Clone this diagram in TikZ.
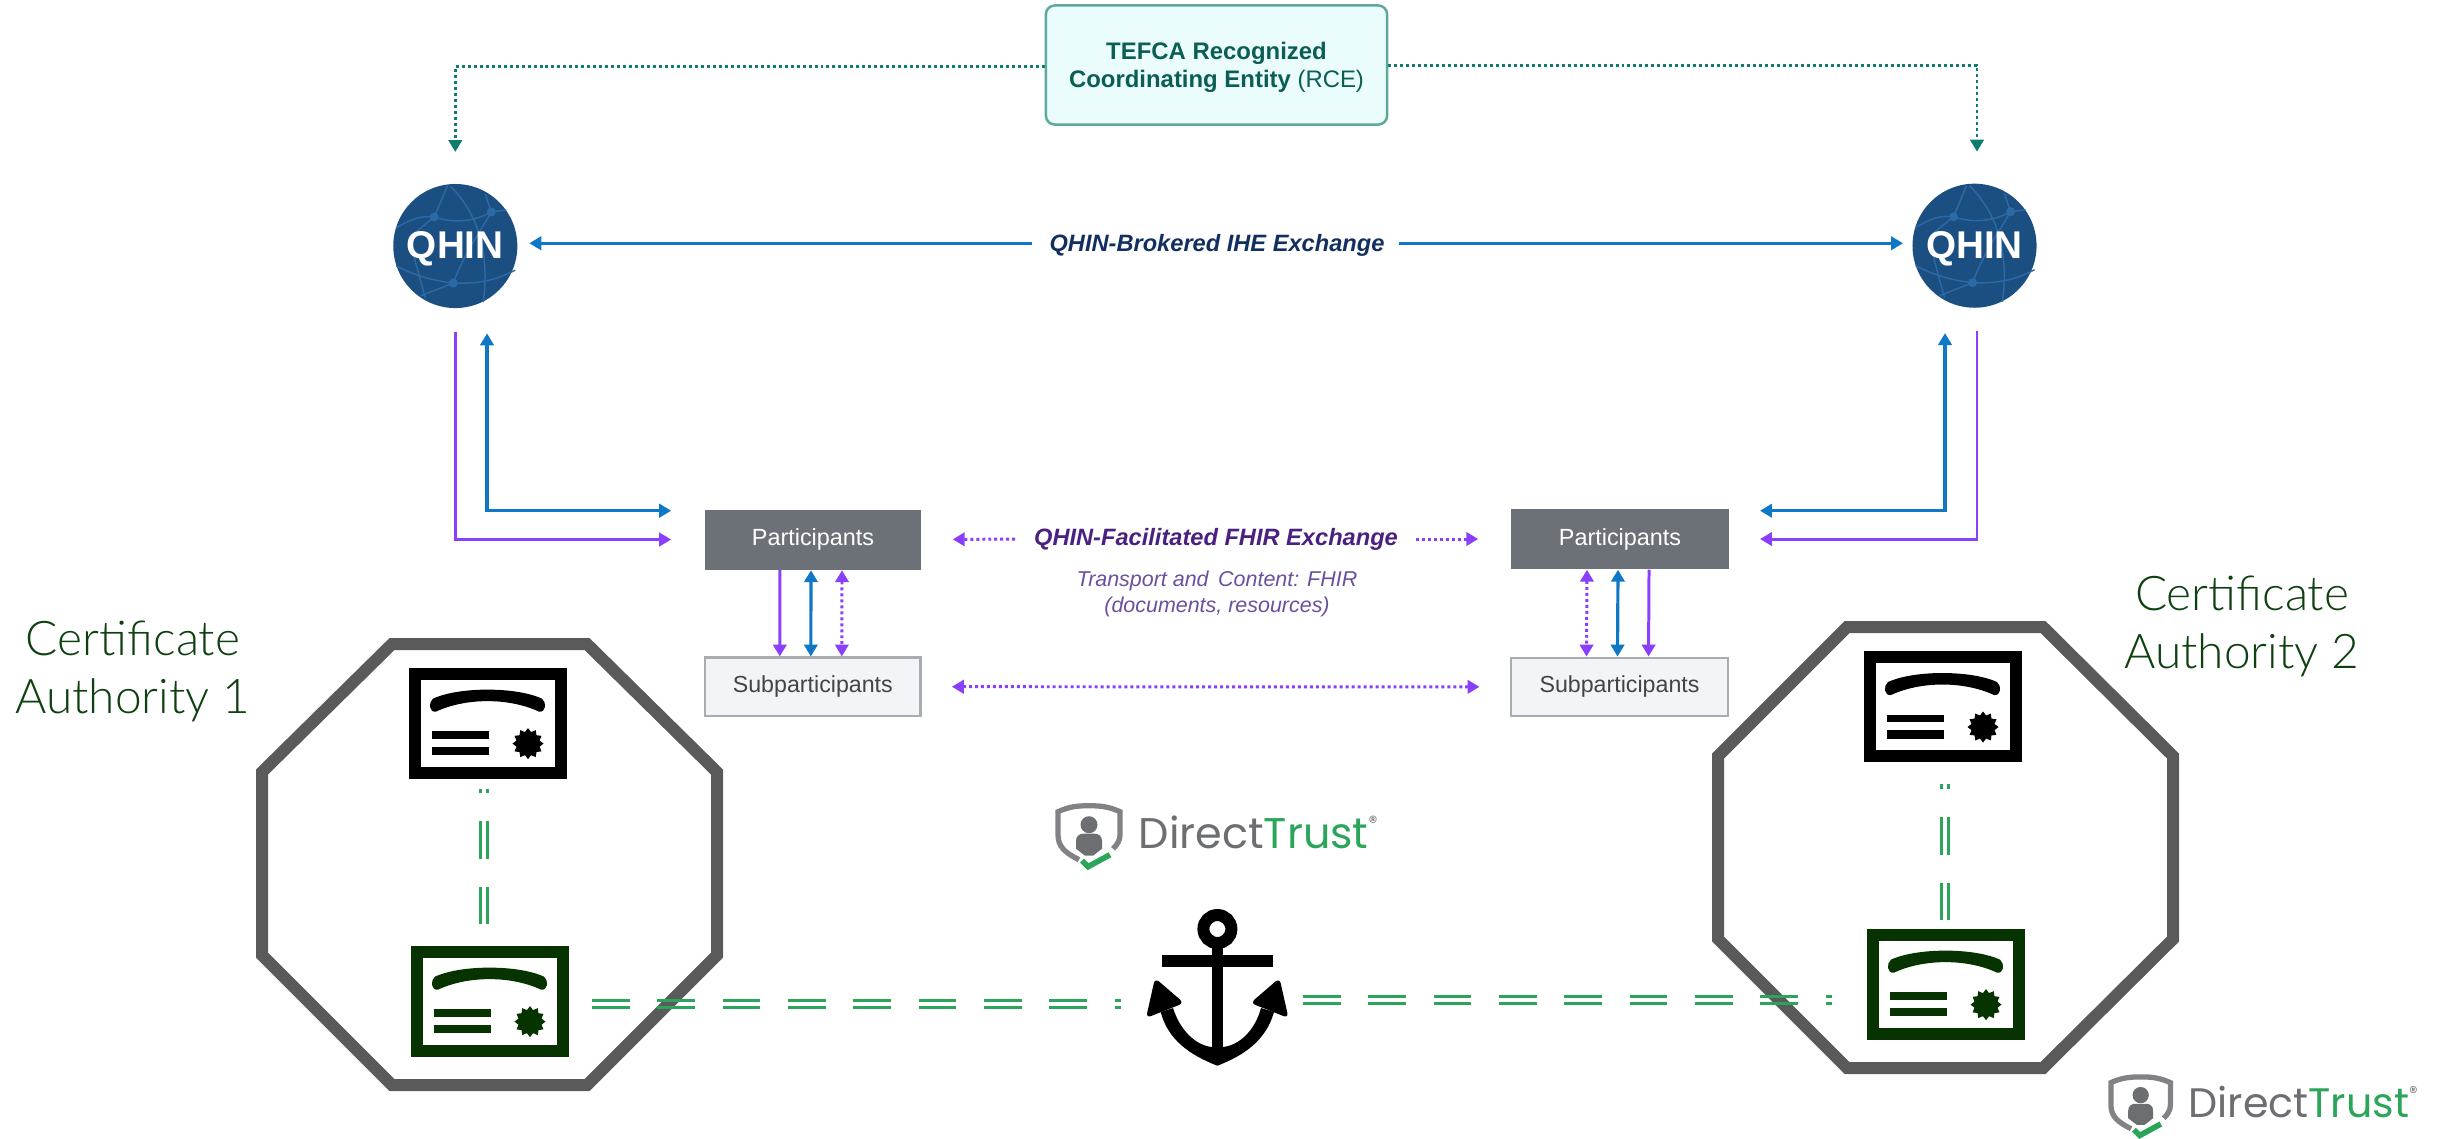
\documentclass[tikz,border=0pt]{standalone}
\usepackage{fontspec}
\setmainfont{Liberation Sans}
\newfontfamily\cafont{Lato Light}
\newfontfamily\logofont{Poppins}
\usetikzlibrary{arrows.meta,shapes.geometric}

\definecolor{rcefill}{HTML}{EAFCFB}
\definecolor{rceline}{HTML}{5EA99C}
\definecolor{rcetext}{HTML}{0B5E52}
\definecolor{tealline}{HTML}{0E7C70}
\definecolor{qhinfill}{HTML}{1B4F82}
\definecolor{qhinweb}{HTML}{2B6AA6}
\definecolor{blueline}{HTML}{0F78C6}
\definecolor{purpleline}{HTML}{8A3FFC}
\definecolor{navytext}{HTML}{12305F}
\definecolor{purpletext}{HTML}{4A2080}
\definecolor{noteText}{HTML}{6B4FA0}
\definecolor{partfill}{HTML}{6C7178}
\definecolor{subfill}{HTML}{F2F4F8}
\definecolor{subline}{HTML}{A9ADB2}
\definecolor{subtext}{HTML}{444444}
\definecolor{octline}{HTML}{5A5A5A}
\definecolor{certgreen}{HTML}{063300}
\definecolor{catext}{HTML}{0E4010}
\definecolor{chaingreen}{HTML}{2BA55A}
\definecolor{dtgray}{HTML}{6D6E71}
\definecolor{dtline}{HTML}{808285}

\tikzset{
    tip/.style={>={Triangle[length=3.4pt,width=3.8pt]}},
    tealdot/.style={tip, tealline, line width=.85pt, dash pattern=on .85pt off .85pt},
    bluearrow/.style={tip, blueline, line width=.9pt},
    purplearrow/.style={tip, purpleline, line width=.85pt},
    purpledot/.style={tip, purpleline, line width=.85pt, dash pattern=on .85pt off .85pt},
    chainline/.style={chaingreen, line width=.85pt, dash pattern=on 10.67pt off 7.91pt},
    octagonline/.style={octline, line width=3.41pt, line join=miter},
    exchange/.style={inner sep=0pt, font=\fontsize{6.72}{8.3}\selectfont\bfseries\itshape},
    qhindisc/.style={circle, fill=qhinfill, inner sep=0pt, minimum size=1.24cm},
    qhintext/.style={inner sep=0pt, text=white, font=\fontsize{11}{13}\selectfont\bfseries},
    partbox/.style={fill=partfill, text=white, inner sep=0pt, minimum height=.6cm,
        font=\fontsize{6.65}{8}\selectfont},
    subbox/.style={draw=subline, line width=.7pt, fill=subfill, text=subtext, inner sep=0pt,
        minimum height=.58cm, font=\fontsize{6.6}{8}\selectfont},
    catitle/.style={inner sep=0pt, text=catext, anchor=base, font=\fontsize{13.6}{16}\cafont},
    pics/certicon/.style={code={
        \node[draw=#1, fill=white, line width=3.41pt, inner sep=0pt, minimum width=1.46cm,
            minimum height=.99cm] (-box) at (79,55.5) {};
        \fill[#1] (24,31) .. controls (50,19) and (107,19) .. (133,31) .. controls (138,35) and (137,45) .. (130,44)
            .. controls (100,30) and (57,30) .. (27,44) .. controls (20,45) and (19,35) .. (24,31) -- cycle;
        \fill[#1] (23,63.5) rectangle (79.5,71.4);
        \fill[#1] (23,79.3) rectangle (79.5,87.5);
        \node[star, star points=12, star point ratio=1.3, fill=#1, inner sep=0pt,
            minimum size=.31cm] (-seal) at (119,76) {};
    }},
    pics/globeweb/.style={code={
        \draw[qhinweb, line width=.4pt]
            (-59,-18) .. controls (-40,-30) and (-30,-30) .. (-21,-29) .. controls (0,-22) and (20,-25) .. (36,-34) -- (51,-36)
            (-8,-60) -- (-21,-29) -- (-42,-12)
            (-5,-60) .. controls (25,-30) and (34,10) .. (28,56)
            (-59,20) .. controls (-40,30) and (-20,35) .. (-2,37) .. controls (20,38) and (40,35) .. (60,24)
            (36,-34) .. controls (22,-10) and (8,10) .. (-2,37) -- (-35,50)
            (-42,8) -- (-30,52)
            (30,-52) -- (36,-34);
        \fill[qhinweb] (-21,-29) circle (4.5) (36,-34) circle (4.5) (-2,37) circle (4.5);
    }},
    pics/dtlogo/.style={code={
        \draw[dtline, line width=1.5pt] (24,57) .. controls (10,50) and (3,44) .. (3,32) -- (3,9)
            .. controls (14,4) and (22,3) .. (34,3) .. controls (46,3) and (54,4) .. (65,9) -- (65,32)
            .. controls (65,38) and (62,42) .. (58,46);
        \fill[dtgray] (34,22) circle (8.5);
        \fill[dtgray] (21,38) .. controls (21,33) and (25,31) .. (28,31) -- (40,31) .. controls (43,31) and (47,33) .. (47,38)
            -- (47,46) -- (38,53) -- (30,53) -- (21,46) -- cycle;
        \draw[chaingreen, line width=1.6pt] (27,58) -- (33,64) -- (55,52);
        \node[anchor=base west, inner sep=0pt, font=\fontsize{12.2}{14}\logofont] (-name) at (83,45.3)
            {\textcolor{dtgray}{Direct}\textcolor{chaingreen}{Trust}\raisebox{.85ex}{\textcolor{dtgray}{\fontsize{5}{6}\selectfont ®}}};
    }}
}

\begin{document}
\begin{tikzpicture}[x=.01cm, y=-.01cm]

    \useasboundingbox (0,0) rectangle (2443,1138);

    % RCE
    \node[draw=rceline, line width=.7pt, fill=rcefill, rounded corners=2.5pt,
        minimum width=3.41cm, minimum height=1.19cm, inner sep=0pt] (rce) at (1216.5,65) {};
    \node[align=center, text=rcetext, inner sep=0pt, font=\fontsize{6.8}{8}\selectfont]
        (rcetext) at (1216.5,67) {\textbf{TEFCA Recognized}\\\textbf{Coordinating Entity} (RCE)};

    % QHIN 1
    \node[qhindisc] (qhinA) at (455.3,246) {};
    \pic (webA) at (qhinA) {globeweb};
    \node[qhintext] (qhinAtext) at (455.3,249) {QHIN};

    % QHIN 2
    \node[qhindisc] (qhinB) at (1974.5,245.7) {};
    \pic (webB) at (qhinB) {globeweb};
    \node[qhintext] (qhinBtext) at (1974.5,249) {QHIN};

    % RCE a QHIN
    \draw[tealdot, ->, shorten >=8.9pt] ([yshift=-.5pt]rce.west) -| (qhinA.north);
    \draw[tealdot, ->, shorten >=8.9pt] (rce.east) -| ([xshift=.7pt]qhinB.north);

    % QHIN-Brokered
    \node[exchange, text=navytext] (brokered) at (1217,245) {QHIN-Brokered IHE Exchange};
    \draw[bluearrow, ->, shorten <=4.9pt, shorten >=3.2pt] ([yshift=.5pt]brokered.west) -- ([yshift=.5pt]brokered.west -| qhinA.east);
    \draw[bluearrow, ->, shorten <=4pt, shorten >=2.5pt] ([yshift=.5pt]brokered.east) -- ([yshift=.5pt]brokered.east -| qhinB.west);

    % Participants 1
    \node[partbox, minimum width=2.16cm] (partA) at (813,539.5) {\raisebox{-.4pt}{Participants}};
    \node[subbox, minimum width=2.15cm] (subA) at (812.8,686.7) {\raisebox{-.4pt}{Subparticipants}};

    % Participants 2
    \node[partbox, minimum width=2.18cm] (partB) at (1620,539) {\raisebox{-.4pt}{Participants}};
    \node[subbox, minimum width=2.17cm] (subB) at (1619.5,686.8) {\raisebox{-.4pt}{Subparticipants}};

    % QHIN 1 a Participants 1
    \draw[purplearrow, ->, shorten <=6.5pt, shorten >=9.4pt] (qhinA.south) |- (partA.west);
    \draw[bluearrow, <->, shorten <=7pt, shorten >=9.4pt] ([xshift=.317cm]qhinA.south) |- ([yshift=.288cm]partA.west);

    % QHIN 2 a Participants 2
    \draw[purplearrow, ->, shorten <=6.5pt, shorten >=8.6pt] ([xshift=.7pt]qhinB.south) |- (partB.east);
    \draw[bluearrow, <->, shorten <=7pt, shorten >=8.6pt] ([xshift=-.295cm]qhinB.south) |- ([yshift=.283cm]partB.east);

    % Participants 1 a Subparticipants 1
    \draw[purplearrow, ->] ([xshift=-.33cm]partA.south) -- ([xshift=-.33cm]subA.north);
    \draw[bluearrow, <->] ([xshift=-.02cm]partA.south) -- ([xshift=-.02cm]subA.north);
    \draw[purpledot, <->] ([xshift=.29cm]partA.south) -- ([xshift=.29cm]subA.north);

    % Participants 2 a Subparticipants 2
    \draw[purpledot, <->] ([xshift=-.33cm]partB.south) -- ([xshift=-.33cm]subB.north);
    \draw[bluearrow, <->] ([xshift=-.02cm]partB.south) -- ([xshift=-.02cm]subB.north);
    \draw[purplearrow, ->] ([xshift=.29cm]partB.south) -- ([xshift=.29cm]subB.north);

    % QHIN-Facilitated
    \node[exchange, text=purpletext] (facil) at (1216,539) {\raisebox{-.3pt}{QHIN-Facilitated FHIR Exchange}};
    \node[inner sep=0pt, align=center, text=noteText, font=\fontsize{6.1}{7.5}\selectfont\itshape]
        (facilnote) at (1217,594) {Transport and\, Content: FHIR\\(documents, resources)};
    \draw[purpledot, ->, shorten <=5.2pt, shorten >=8.8pt] (facil.west) -- (partA.east);
    \draw[purpledot, ->, shorten <=4.9pt, shorten >=9.1pt] (facil.east) -- (partB.west);
    \draw[purpledot, <->, shorten <=8.6pt, shorten >=8.6pt] (subA.east) -- (subB.west);

    % Certificate Authority 1
    \node[catitle] (caAtop) at (133,655.6) {Certificate};
    \node[catitle] (caAbot) at (133,713) {Authority 1};
    \draw[octagonline] (392,644) -- (587,644) -- (717,772) -- (717,955) -- (587,1085) -- (392,1085) -- (262,955) -- (262,772) -- cycle;
    \pic (certA) at (409,667.6) {certicon=black};
    \pic (rootA) at (411,945.6) {certicon=certgreen};

    % Certificate Authority 2
    \node[catitle] (caBtop) at (2242,610.5) {Certificate};
    \node[catitle] (caBbot) at (2242,668.7) {Authority 2};
    \draw[octagonline] (1847,627) -- (2043,627) -- (2173,756) -- (2173,939) -- (2043,1068) -- (1847,1068) -- (1718,939) -- (1718,756) -- cycle;
    \pic (certB) at (1864,651) {certicon=black};
    \pic (rootB) at (1867,928.6) {certicon=certgreen};

    % Ancla
    \draw[line width=3.41pt] (1217.4,929) circle (14);
    \fill (1211.7,940) rectangle (1223,1050);
    \fill (1162,954.7) rectangle (1272.7,966.7);
    \fill[rounded corners=1.5pt] (1155,978) -- (1146,1018) -- (1184,1003) -- cycle;
    \fill[rounded corners=1.5pt] (1279.5,978) -- (1288.5,1018) -- (1250.5,1003) -- cycle;
    \fill (1160.7,1012) .. controls (1168,1040) and (1190,1055) .. (1217.3,1065.7)
        .. controls (1245,1055) and (1266,1040) .. (1274,1012) -- (1261,1008)
        .. controls (1255,1030) and (1240,1045) .. (1223,1047) -- (1211.7,1047)
        .. controls (1195,1045) and (1180,1030) .. (1173,1008) -- cycle;

    % Cadenas
    \coordinate (chainAup) at (484.3,924);
    \coordinate (chainAtop) at (484.3,789);
    \coordinate (chainBup) at (1945,920);
    \coordinate (chainBtop) at (1945,784);
    \coordinate (chainAright) at (592,1004);
    \coordinate (anchorA) at (1121,1004);
    \coordinate (anchorB) at (1303,1000);
    \coordinate (chainBleft) at (1832,1000);
    \foreach \d in {-3.6,3.6} {
        \draw[chainline, transform canvas={xshift=\d*.01cm}] (chainAup) -- (chainAtop);
        \draw[chainline, transform canvas={xshift=\d*.01cm}] (chainBup) -- (chainBtop);
        \draw[chainline, transform canvas={yshift=\d*.01cm}] (chainAright) -- (anchorA);
        \draw[chainline, transform canvas={yshift=\d*.01cm}] (anchorB) -- (chainBleft);
    }

    % DirectTrust
    \pic (logoA) at (1055,802.7) {dtlogo};
    \pic[scale=.96, transform shape] (logoB) at (2108,1074) {dtlogo};

\end{tikzpicture}
\end{document}
